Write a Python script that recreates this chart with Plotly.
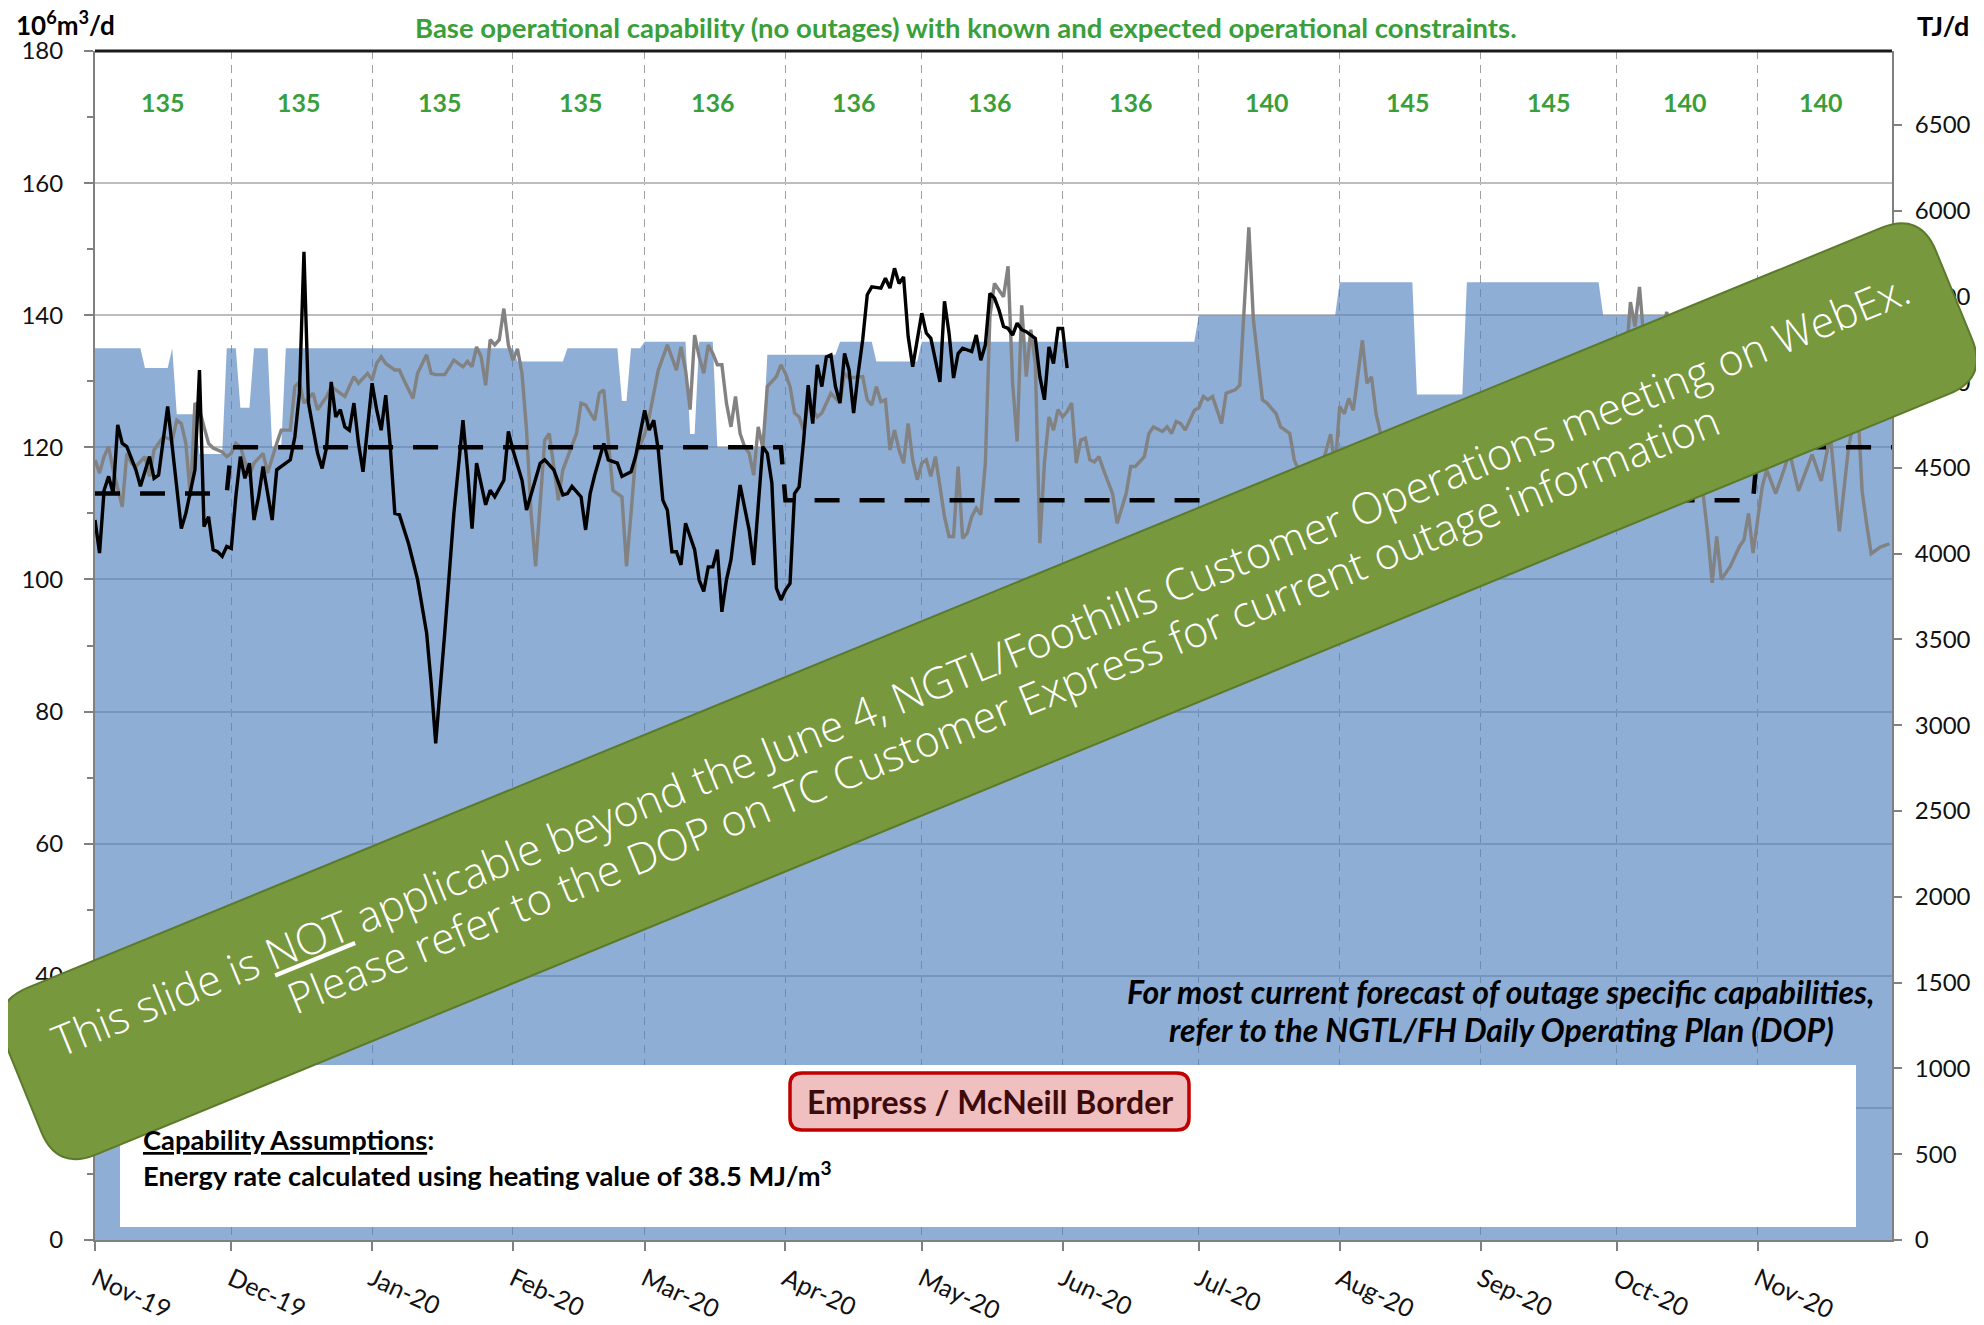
import numpy as np
import pandas as pd
import plotly.graph_objects as go

BASE = pd.Timestamp("2019-11-01")
HEAT_VALUE = 38.5  # MJ/m3 -> TJ/d per 10^6 m3/d

# ---------------- data ----------------
month_ticks = ["2019-11-01", "2019-12-01", "2020-01-01", "2020-02-01", "2020-03-01", "2020-04-01",
               "2020-05-01", "2020-06-01", "2020-07-01", "2020-08-01", "2020-09-01", "2020-10-01",
               "2020-11-01"]
month_labels = ["Nov-19", "Dec-19", "Jan-20", "Feb-20", "Mar-20", "Apr-20", "May-20", "Jun-20",
                "Jul-20", "Aug-20", "Sep-20", "Oct-20", "Nov-20"]
month_mid = ["2019-11-16", "2019-12-16", "2020-01-16", "2020-02-16", "2020-03-16", "2020-04-16",
             "2020-05-16", "2020-06-16", "2020-07-16", "2020-08-16", "2020-09-16", "2020-10-16",
             "2020-11-15"]
month_capability = [135, 135, 135, 135, 136, 136, 136, 136, 140, 145, 145, 140, 140]

# capability (blue area), day offset from 2019-11-01
cap_day = [0, 10, 11, 16, 17, 18, 22, 23, 28, 29, 31, 32, 34, 35, 38, 39, 41, 42, 92, 93, 103, 104,
           115, 116, 117, 118, 120, 121, 130, 131, 132, 133, 136, 137, 147, 148, 163, 164, 171, 172,
           181, 182, 242, 243, 273, 274, 290, 291, 301, 302, 331, 332, 396]
cap_val = [135, 135, 132, 132, 135, 125, 125, 119, 119, 135, 135, 126, 126, 135, 135, 120, 120, 135,
           135, 133, 133, 135, 135, 127, 127, 135, 135, 136, 136, 122, 122, 136, 136, 120, 120, 134,
           134, 136, 136, 133, 133, 136, 136, 140, 140, 145, 145, 128, 128, 145, 145, 140, 140]

# dashed reference line
ref_day = [0, 29, 30, 151, 152, 365, 366, 396]
ref_val = [113, 113, 120, 120, 112, 112, 120, 120]

# black line (current year flow)
black_day = [0, 1, 2, 3, 4, 5, 6, 7, 9, 10, 12, 13, 14, 16, 17, 19, 20, 22, 23, 24, 25, 26, 27, 28, 29,
             30, 31, 32, 33, 34, 35, 36, 37, 39, 40, 42, 43, 44, 45, 46, 47, 49, 50, 51, 52, 53, 54,
             55, 56, 57, 58, 59, 60, 61, 62, 63, 64, 65, 66, 67, 69, 71, 73, 74, 75, 76, 77, 78, 79,
             80, 81, 82, 83, 84, 85, 86, 87, 88, 90, 91, 92, 94, 95, 97, 98, 99, 101, 103, 104, 105,
             106, 107, 108, 109, 110, 112, 113, 115, 116, 118, 119, 121, 122, 123, 124, 125, 126,
             127, 128, 129, 130, 132, 133, 134, 135, 136, 137, 138, 139, 140, 142, 144, 145, 147,
             148, 149, 150, 151, 152, 153, 154, 155, 156, 157, 158, 159, 160, 161, 162, 163, 164,
             165, 166, 167, 168, 169, 170, 171, 173, 174, 175, 176, 177, 178, 179, 180, 182, 183,
             184, 186, 187, 188, 189, 190, 191, 192, 193, 194, 195, 196, 197, 198, 199, 200, 201,
             202, 203, 204, 205, 207, 208, 209, 210, 211, 212, 213, 214]
black_val = [109, 104, 113.5, 115.6, 113, 123.4, 120.6, 120.1, 116.6, 114.1, 118.6, 115.3, 115.8,
             126.2, 120.1, 107.7, 110, 116.6, 131.7, 108, 109.5, 104.5, 104.2, 103.5, 105, 104.7,
             112.5, 118.6, 115.3, 117.6, 109, 112.5, 117.1, 109, 116.6, 117.6, 118.1, 121.6, 128.2,
             149.6, 126.7, 119.1, 116.8, 120.1, 129.9, 124.6, 125.7, 123.1, 122.6, 126.7, 120.6,
             116.3, 123.6, 129.7, 125.7, 122.6, 127.9, 120.1, 110, 109.8, 105.5, 100, 91.9, 84.3,
             75.2, 83, 92, 101, 110, 117, 124.1, 116.6, 107.7, 117.6, 114.6, 111.3, 113.5, 112.5,
             115, 122.4, 119.6, 115, 110.5, 115, 117.6, 118.1, 116.6, 112.8, 113, 114.1, 113.3,
             112.5, 107.5, 113, 115.8, 120.6, 118.1, 117.6, 115.6, 116.3, 118.6, 125.6, 122.6,
             124.1, 119.6, 112, 110.5, 104.2, 104.2, 102.2, 108.5, 104.5, 99.9, 98.2, 101.9, 101.9,
             104.5, 95.1, 99.9, 103, 114.3, 107.5, 102.2, 120.1, 119.1, 114.6, 98.7, 96.9, 98.4,
             99.4, 113, 114, 121.1, 129.4, 123.6, 132.5, 129.2, 133.7, 134, 129.2, 126.7, 134.2,
             131.7, 125.2, 131.2, 136.3, 143.1, 144.3, 144.1, 145.6, 144.1, 147.1, 144.8, 145.8,
             136.8, 132.2, 140.3, 137.3, 136.5, 129.9, 142.1, 137.3, 130.5, 134.2, 135, 134.7,
             134.5, 137, 133.2, 135.5, 143.3, 142.6, 140.8, 138.3, 138, 137, 138.8, 137.8, 137.5,
             136.5, 130.7, 127.2, 135.2, 132.7, 138, 138, 132]

# grey line (prior year flow)
grey_day = [0, 1, 2, 3, 4, 6, 7, 8, 9, 11, 12, 13, 15, 17, 18, 19, 20, 21, 22, 23, 24, 25, 26, 28, 29,
            30, 31, 32, 34, 35, 37, 38, 40, 41, 43, 44, 45, 46, 48, 49, 51, 52, 53, 55, 56, 57, 58,
            60, 61, 62, 63, 64, 66, 67, 68, 70, 71, 73, 74, 75, 77, 78, 79, 81, 82, 83, 84, 85, 86,
            87, 88, 89, 90, 91, 92, 93, 94, 95, 96, 97, 98, 99, 100, 101, 102, 103, 105, 106, 107,
            108, 110, 111, 112, 113, 114, 116, 117, 118, 119, 121, 122, 124, 125, 126, 128, 129,
            130, 131, 132, 133, 134, 135, 136, 137, 138, 139, 140, 141, 142, 143, 144, 145, 146,
            147, 148, 150, 151, 152, 153, 154, 155, 156, 157, 158, 159, 160, 161, 162, 164, 165,
            166, 168, 169, 170, 171, 172, 173, 174, 175, 176, 177, 178, 179, 180, 181, 182, 183,
            184, 185, 186, 187, 188, 189, 190, 191, 192, 193, 194, 195, 196, 197, 198, 199, 200,
            201, 202, 203, 204, 205, 206, 207, 208, 209, 210, 211, 212, 213, 214, 215, 216, 217,
            218, 219, 220, 221, 222, 224, 225, 227, 228, 229, 231, 232, 233, 235, 236, 237, 238,
            239, 240, 242, 243, 244, 245, 246, 248, 249, 251, 252, 254, 255, 257, 258, 260, 261,
            263, 264, 266, 268, 270, 272, 273, 274, 275, 276, 277, 279, 280, 281, 282, 283, 284,
            286, 288, 290, 292, 295, 298, 301, 304, 307, 310, 313, 316, 319, 322, 325, 328, 331,
            333, 335, 337, 338, 339, 340, 341, 342, 344, 346, 348, 350, 352, 354, 355, 356, 357,
            358, 360, 362, 363, 364, 365, 366, 367, 368, 370, 372, 373, 375, 378, 380, 382, 384,
            386, 388, 389, 390, 391, 393, 395]
grey_val = [118.1, 116.1, 118.6, 120.1, 116.6, 111, 119.1, 117.6, 117.1, 118.6, 115.6, 119.6, 121.6,
            121.1, 124.1, 123.6, 120.6, 112.5, 126.7, 125.7, 123.1, 120.6, 119.9, 119.3, 118.6,
            119.1, 120.6, 120.1, 115.6, 117.6, 119.1, 116.1, 120.6, 122.6, 122.6, 129.2, 129.9,
            126.7, 128.2, 125.7, 127.7, 129.2, 128.7, 127.7, 129.2, 130.7, 129.7, 131.2, 130.2,
            132.7, 133.7, 132.7, 131.7, 131.7, 130.2, 127.4, 131.2, 134, 131.2, 131, 131, 132.2,
            133.2, 132.2, 133, 132.2, 135.2, 133.7, 129.4, 136.3, 135.5, 136.3, 141, 135.5, 133.2,
            134.9, 131.2, 122.6, 110, 102, 112.5, 121.1, 122.1, 116.6, 112, 116.6, 120.1, 122.1,
            126.7, 126.4, 124.1, 128.2, 128.7, 121.6, 113.5, 112.5, 102, 110, 118.6, 122, 124.6,
            131.7, 133.5, 135.5, 131.7, 135.2, 131.7, 125.7, 137, 133.7, 131.2, 135.5, 134.2,
            132.5, 132.5, 126.7, 123.1, 127.7, 122.1, 120.1, 119.1, 115.8, 123.1, 119.9, 129.2,
            130.7, 132.5, 131.2, 129.2, 125.2, 124.6, 122.6, 126.7, 125.7, 124.6, 125.2, 126.7,
            128.2, 126.7, 131.2, 130.5, 130.7, 130.7, 127.2, 126.4, 129.2, 126.9, 127.2, 119.6,
            122.6, 119.6, 117.6, 123.6, 118.1, 115.1, 117.6, 118.1, 115.6, 118.6, 114.1, 109.5,
            106.5, 106.5, 117.1, 106.2, 107, 109.5, 110.8, 109.8, 117.6, 139.8, 144.8, 143.8,
            142.8, 147.4, 129.7, 120.9, 141.5, 130.7, 137.8, 132.7, 105.5, 117.6, 124.6, 122.6,
            125.7, 124.6, 125.4, 126.7, 117.6, 121.1, 121.4, 118.1, 117.8, 118.6, 116.6, 113,
            108.5, 113, 117.1, 117.1, 118.6, 122.1, 123.1, 122.4, 123.1, 122.1, 123.9, 123.6,
            122.6, 125.6, 126, 127.7, 127.2, 127.7, 123.6, 128.2, 128.7, 129.4, 153.3, 139.3,
            127.2, 126.7, 125.1, 123.1, 122.1, 118.1, 115, 113, 117, 122, 117, 126.2, 125.1,
            127.4, 125.6, 136.2, 129.7, 130.7, 125.1, 122.1, 118.1, 116, 118, 114, 117, 113, 116,
            119, 115, 118, 121, 117, 120, 118, 122, 120, 124, 127, 132, 135, 133, 142, 138.3,
            144.3, 136, 130, 134, 140.5, 132, 125, 118, 113, 107, 99.5, 106.5, 100, 102, 105, 106,
            110, 104, 109, 114, 116.6, 113, 117, 119.4, 113.4, 118.9, 114.9, 121.9, 107.3, 119.9,
            127, 113.4, 108.4, 103.9, 104.9, 105.4]

# ---------------- helpers ----------------
def to_dates(days):
    return BASE + pd.to_timedelta(np.array(days, dtype=float), unit="D")

WIN_W, WIN_H = 1984, 1325
OFF = 8                                   # default page margin of the html body
W, H = WIN_W - OFF, WIN_H - OFF
PL, PR, PT, PB = 95, 1892, 51, 1240       # plot area in window pixels


def px2paper(x, y):
    return (x - PL) / (PR - PL), (PB - y) / (PB - PT)


def rounded_path(pts, r):
    n = len(pts)
    parts = []
    for i in range(n):
        p0 = np.array(pts[i - 1], float)
        p1 = np.array(pts[i], float)
        p2 = np.array(pts[(i + 1) % n], float)
        a = p1 + (p0 - p1) / np.linalg.norm(p0 - p1) * r
        b = p1 + (p2 - p1) / np.linalg.norm(p2 - p1) * r
        parts.append((a, p1, b))
    s = ""
    for i, (a, c, b) in enumerate(parts):
        ax, ay = px2paper(*a)
        cx, cy = px2paper(*c)
        bx, by = px2paper(*b)
        s += ("M" if i == 0 else " L") + f"{ax:.5f},{ay:.5f} Q{cx:.5f},{cy:.5f} {bx:.5f},{by:.5f}"
    return s + " Z"


FONT = "Lato, 'Open Sans', sans-serif"
GREEN = "#3A9F3A"

fig = go.Figure()

# capability area
fig.add_trace(go.Scatter(x=to_dates(cap_day), y=cap_val, mode="lines", fill="tozeroy",
                         fillcolor="rgba(79,129,189,0.64)", line=dict(width=0, color="rgba(0,0,0,0)"),
                         hoverinfo="skip", showlegend=False))
# grey line
fig.add_trace(go.Scatter(x=to_dates(grey_day), y=grey_val, mode="lines",
                         line=dict(color="#828282", width=3.4), showlegend=False))
# black line
fig.add_trace(go.Scatter(x=to_dates(black_day), y=black_val, mode="lines",
                         line=dict(color="#000000", width=3.4), showlegend=False))
# dashed line
fig.add_trace(go.Scatter(x=to_dates(ref_day), y=ref_val, mode="lines",
                         line=dict(color="#000000", width=4.5, dash="25px,20px"), showlegend=False))
# energy-rate twin (right axis) – invisible
fig.add_trace(go.Scatter(x=to_dates(cap_day), y=[v * HEAT_VALUE for v in cap_val], yaxis="y2",
                         mode="lines", line=dict(width=0), opacity=0, hoverinfo="skip",
                         showlegend=False))

shapes = []
# top border
shapes.append(dict(type="line", xref="paper", yref="paper", x0=0, x1=1, y0=1, y1=1,
                   line=dict(color="#1a1a1a", width=3), layer="above"))
# white info box
bx0, by0 = px2paper(120, 1227)
bx1, by1 = px2paper(1856, 1065)
shapes.append(dict(type="rect", xref="paper", yref="paper", x0=bx0, x1=bx1, y0=by0, y1=by1,
                   fillcolor="white", line=dict(width=0), layer="above"))
# red label box
shapes.append(dict(type="path", xref="paper", yref="paper",
                   path=rounded_path([(790, 1073), (1189, 1073), (1189, 1130), (790, 1130)], 12),
                   fillcolor="#F0C0C0", line=dict(color="#C00000", width=3.5), layer="above"))
# green banner
banner = [(-11, 1003.5), (1920, 212), (1988, 378), (57, 1170.5)]
shapes.append(dict(type="path", xref="paper", yref="paper", path=rounded_path(banner, 42),
                   fillcolor="#77983C", line=dict(color="#5B7A2B", width=2), layer="above"))

ann = []
ann.append(dict(xref="paper", yref="paper", x=px2paper(966, 0)[0], y=px2paper(0, 28)[1],
                text="<b>Base operational capability (no outages) with known and expected operational constraints.</b>",
                showarrow=False, font=dict(family=FONT, size=27.5, color=GREEN),
                xanchor="center", yanchor="middle"))
ann.append(dict(xref="paper", yref="paper", x=px2paper(14, 0)[0], y=px2paper(0, 24)[1],
                text="<b>10<sup>6</sup>m<sup>3</sup>/d</b>", showarrow=False,
                font=dict(family=FONT, size=26, color="#000"), xanchor="left", yanchor="middle"))
ann.append(dict(xref="paper", yref="paper", x=px2paper(1943, 0)[0], y=px2paper(0, 26)[1],
                text="<b>TJ/d</b>", showarrow=False,
                font=dict(family=FONT, size=27, color="#000"), xanchor="center", yanchor="middle"))
for xm, cap in zip(month_mid, month_capability):
    ann.append(dict(xref="x", yref="y", x=xm, y=172.3, text=f"<b>{cap}</b>", showarrow=False,
                    font=dict(family=FONT, size=25, color=GREEN), xanchor="center", yanchor="middle"))
# italic note
for txt, yy in [("For most current forecast of outage specific capabilities,", 991),
                ("refer to the NGTL/FH Daily Operating Plan (DOP)", 1029)]:
    ann.append(dict(xref="paper", yref="paper", x=px2paper(1501, 0)[0], y=px2paper(0, yy)[1],
                    text=f"<b><i>{txt}</i></b>", showarrow=False,
                    font=dict(family=FONT, size=32, color="#000"), xanchor="center", yanchor="middle"))
ann.append(dict(xref="paper", yref="paper", x=px2paper(989.5, 0)[0], y=px2paper(0, 1101.5)[1],
                text="<b>Empress / McNeill Border</b>", showarrow=False,
                font=dict(family=FONT, size=32, color="#3F0A0A"), xanchor="center", yanchor="middle"))
ann.append(dict(xref="paper", yref="paper", x=px2paper(141, 0)[0], y=px2paper(0, 1139)[1],
                text="<b><u>Capability Assumptions</u>:</b>", showarrow=False,
                font=dict(family=FONT, size=27.3, color="#000"), xanchor="left", yanchor="middle"))
ann.append(dict(xref="paper", yref="paper", x=px2paper(141, 0)[0], y=px2paper(0, 1174)[1],
                text="<b>Energy rate calculated using heating value of 38.5 MJ/m<sup>3</sup></b>",
                showarrow=False, font=dict(family=FONT, size=27.3, color="#000"),
                xanchor="left", yanchor="middle"))
# banner text
ANG = -22.2
BFONT = dict(family="'Open Sans', Lato, sans-serif", size=43, color="white", weight=300)
ann.append(dict(xref="paper", yref="paper", x=px2paper(980, 0)[0], y=px2paper(0, 664)[1],
                text="This slide is <u>NOT</u> applicable beyond the June 4, NGTL/Foothills Customer Operations meeting on WebEx.",
                showarrow=False, textangle=ANG, font=BFONT, xanchor="center", yanchor="middle"))
ann.append(dict(xref="paper", yref="paper", x=px2paper(1003, 0)[0], y=px2paper(0, 708)[1],
                text="Please refer to the DOP on TC Customer Express for current outage information",
                showarrow=False, textangle=ANG, font=BFONT, xanchor="center", yanchor="middle"))

fig.update_layout(
    width=W, height=H,
    margin=dict(l=PL - OFF, r=W - (PR - OFF), t=PT - OFF, b=H - (PB - OFF), autoexpand=False),
    paper_bgcolor="white", plot_bgcolor="white",
    showlegend=False,
    font=dict(family=FONT, size=24, color="#111"),
    xaxis=dict(type="date", range=[BASE, pd.Timestamp("2020-11-30 14:00")],
               tickvals=month_ticks, ticktext=month_labels, tickangle=25,
               tickfont=dict(family=FONT, size=25, color="#111"),
               showgrid=True, gridcolor="#A0A0A0", gridwidth=1.3, griddash="8px,6px",
               ticks="outside", ticklen=9, tickwidth=2, tickcolor="#808080",
               showline=True, linecolor="#808080", linewidth=2, zeroline=False,
               ticklabelstandoff=4),
    yaxis=dict(range=[0, 180], tickvals=list(range(0, 181, 20)),
               tickfont=dict(family=FONT, size=24, color="#111"),
               showgrid=True, gridcolor="#BDBDBD", gridwidth=1.6,
               ticks="outside", ticklen=9, tickwidth=2, tickcolor="#808080",
               minor=dict(dtick=10, ticks="outside", ticklen=6, tickcolor="#808080", showgrid=False),
               showline=True, linecolor="#808080", linewidth=2, zeroline=False,
               ticklabelstandoff=16),
    yaxis2=dict(overlaying="y", side="right", range=[0, 180 * HEAT_VALUE],
                tickvals=list(range(0, 6501, 500)),
                tickfont=dict(family=FONT, size=24, color="#111"),
                showgrid=False, ticks="outside", ticklen=8, tickwidth=2, tickcolor="#808080",
                showline=True, linecolor="#808080", linewidth=2, zeroline=False,
                ticklabelstandoff=8),
    shapes=shapes,
    annotations=ann,
)

fig.write_html("out.html")
